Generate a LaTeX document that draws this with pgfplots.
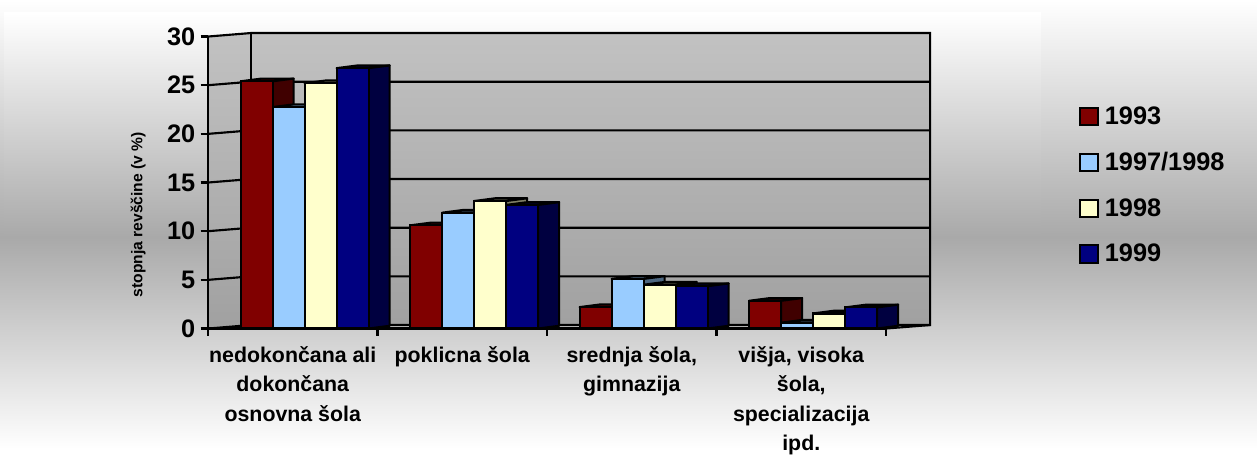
\documentclass[border=0pt]{standalone}
\usepackage{pgfplots}
\pgfplotsset{compat=1.18}
\usepackage{fontspec}
\setmainfont{Liberation Sans}
\definecolor{cR}{HTML}{800000}\definecolor{cRd}{HTML}{400000}
\definecolor{cB}{HTML}{99CCFF}\definecolor{cBd}{HTML}{4D6680}
\definecolor{cY}{HTML}{FFFFCC}\definecolor{cYd}{HTML}{808066}
\definecolor{cN}{HTML}{000080}\definecolor{cNd}{HTML}{000040}
\definecolor{bgmid}{HTML}{A9A9A9}
% top and side face of one bar: centre x, value, dark colour
\newcommand{\faces}[3]{%
  \pgfmathsetmacro{\xa}{#1-0.0944}\pgfmathsetmacro{\xb}{#1+0.0944}%
  \pgfmathsetmacro{\xc}{\xa+0.1239}\pgfmathsetmacro{\xd}{\xb+0.1239}%
  \pgfmathsetmacro{\yt}{#2+0.28}%
  \addplot[sharp plot,forget plot,draw=black,line width=1.6pt,fill=#3,line join=round] coordinates {(\xa,#2)(\xc,\yt)(\xd,\yt)(\xb,#2)} --cycle;
  \addplot[sharp plot,forget plot,draw=black,line width=1.6pt,fill=#3,line join=round] coordinates {(\xb,0)(\xd,0.28)(\xd,\yt)(\xb,#2)} --cycle;
}
\begin{document}
\begin{tikzpicture}
\begin{scope}[x=0.75pt,y=-0.75pt]
\useasboundingbox (0,0) rectangle (1257,449);
\shade[top color=white,bottom color=bgmid] (0,0) rectangle (1257,237);
\shade[top color=bgmid,bottom color=white] (0,237) rectangle (1257,449);
\shade[top color=white,bottom color=bgmid] (4,13) rectangle (1041,237);
\shade[top color=bgmid,bottom color=white] (4,237) rectangle (1041,449);
\shade[top color=black!24,bottom color=black!37] (251,33) rectangle (930,325);
\shade[top color=black!24,bottom color=black!37] (208,36.5)--(251,33)--(251,325)--(208,328.5)--cycle;
\end{scope}
\begin{axis}[
  at={(156pt,-246.4pt)},anchor=south west,
  scale only axis,width=508.5pt,height=219pt,
  xmin=0,xmax=4,ymin=0,ymax=30,clip=false,
  axis x line=bottom,axis y line=left,
  axis line style={-,line width=1.6pt,black},
  tick style={line width=1.6pt,black},
  tick align=outside,major tick length=5.5pt,
  xtick={0,1,2,3,4},xticklabels={},
  extra x ticks={0.5,1.5,2.5,3.5},
  extra x tick style={major tick length=0pt,tick style={draw=none}},
  extra x tick labels={{nedokončana ali\\dokončana\\osnovna šola},{poklicna šola},{srednja šola,\\gimnazija},{višja, visoka\\šola,\\specializacija\\ipd.}},
  x tick label style={font=\fontsize{16}{22}\selectfont\bfseries,align=center,anchor=north,yshift=-10pt},
  ytick={0,5,10,15,20,25,30},
  /pgf/number format/assume math mode=true,
  y tick label style={font=\fontsize{19}{19}\selectfont\bfseries,xshift=-0.5pt},
  ylabel={stopnja revščine (v \%)},
  ylabel style={font=\fontsize{11.7}{12}\selectfont\bfseries,at={(axis description cs:-0.103,0.39)},anchor=center,rotate=0},
  legend image code/.code={\draw[#1,line width=1.5pt] (0pt,-6.5pt) rectangle (13pt,6.5pt);},
  legend style={at={(axis cs:5.14,23.0)},anchor=north west,draw=none,fill=none,inner sep=0pt,row sep=16.4pt,
    font=\fontsize{19}{19}\selectfont\bfseries,
    nodes={inner sep=1.5pt},
    /tikz/column 2/.style={column sep=3pt}},
  legend cell align=left,
]
% walls' lines
\addplot[sharp plot,forget plot,black,line width=1.6pt] coordinates {(0,30)(0.2537,30.36)(4.26,30.36)(4.26,0.36)(0.2537,0.36)(0,0)};
\addplot[sharp plot,forget plot,black,line width=1.6pt] coordinates {(0.2537,30.36)(0.2537,0.36)};
\addplot[sharp plot,forget plot,black,line width=1.6pt] coordinates {(4,0)(4.26,0.36)};
\addplot[sharp plot,forget plot,black,line width=1.6pt] coordinates {(0,5)(0.2537,5.36)(4.26,5.36)};
\addplot[sharp plot,forget plot,black,line width=1.6pt] coordinates {(0,10)(0.2537,10.36)(4.26,10.36)};
\addplot[sharp plot,forget plot,black,line width=1.6pt] coordinates {(0,15)(0.2537,15.36)(4.26,15.36)};
\addplot[sharp plot,forget plot,black,line width=1.6pt] coordinates {(0,20)(0.2537,20.36)(4.26,20.36)};
\addplot[sharp plot,forget plot,black,line width=1.6pt] coordinates {(0,25)(0.2537,25.36)(4.26,25.36)};
% depth faces, left to right
\faces{0.2868}{25.4}{cRd}\faces{0.4756}{22.75}{cBd}\faces{0.6644}{25.2}{cYd}\faces{0.8532}{26.75}{cNd}
\faces{1.2868}{10.6}{cRd}\faces{1.4756}{11.9}{cBd}\faces{1.6644}{13.1}{cYd}\faces{1.8532}{12.7}{cNd}
\faces{2.2868}{2.2}{cRd}\faces{2.4756}{5.1}{cBd}\faces{2.6644}{4.5}{cYd}\faces{2.8532}{4.35}{cNd}
\faces{3.2868}{2.85}{cRd}\faces{3.4756}{0.6}{cBd}\faces{3.6644}{1.55}{cYd}\faces{3.8532}{2.17}{cNd}
% front faces
\addplot[ybar,bar width=0.1888,bar shift=0pt,fill=cR,draw=black,line width=1.6pt] coordinates {(0.2868,25.4)(1.2868,10.6)(2.2868,2.2)(3.2868,2.85)};
\addlegendentry{\hspace{3pt}1993}
\addplot[ybar,bar width=0.1888,bar shift=0pt,fill=cB,draw=black,line width=1.6pt] coordinates {(0.4756,22.75)(1.4756,11.9)(2.4756,5.1)(3.4756,0.6)};
\addlegendentry{\hspace{3pt}1997/1998}
\addplot[ybar,bar width=0.1888,bar shift=0pt,fill=cY,draw=black,line width=1.6pt] coordinates {(0.6644,25.2)(1.6644,13.1)(2.6644,4.5)(3.6644,1.55)};
\addlegendentry{\hspace{3pt}1998}
\addplot[ybar,bar width=0.1888,bar shift=0pt,fill=cN,draw=black,line width=1.6pt] coordinates {(0.8532,26.75)(1.8532,12.7)(2.8532,4.35)(3.8532,2.17)};
\addlegendentry{\hspace{3pt}1999}
\end{axis}
\end{tikzpicture}
\end{document}
